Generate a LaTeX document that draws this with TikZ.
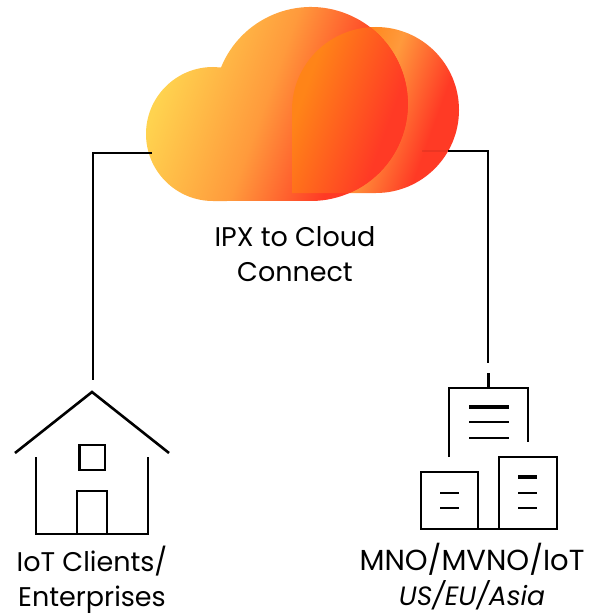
\documentclass[tikz,border=0pt]{standalone}
\usepackage{fontspec}
\setmainfont{Poppins}
\usetikzlibrary{arrows}
\definecolor{cloudA}{HTML}{FFD34F}
\definecolor{cloudB}{HTML}{FF9A3C}
\definecolor{cloudC}{HTML}{FF3A25}
\definecolor{cloudD}{HTML}{FF8418}
\pgfdeclarehorizontalshading{cloudfront}{100bp}{color(0bp)=(cloudA); color(27bp)=(cloudA); color(47bp)=(cloudB); color(64bp)=(cloudC); color(100bp)=(cloudC)}
\pgfdeclarehorizontalshading{cloudback}{100bp}{color(0bp)=(cloudD); color(38bp)=(cloudD); color(50bp)=(cloudB); color(68bp)=(cloudC); color(100bp)=(cloudC)}
\pgfdeclarehorizontalshading{cloudover}{100bp}{color(0bp)=(cloudD); color(28bp)=(cloudD); color(55bp)=(cloudC); color(100bp)=(cloudC)}

\begin{document}
\begin{tikzpicture}[x=1pt,y=-1pt]
	\tikzstyle{pen}=[line width=2.6pt, black, line cap=butt, line join=miter]
	\tikzstyle{thickpen}=[line width=3.6pt, black]
	\tikzstyle{connect}=[line width=2.6pt, black]
	\tikzstyle{caption}=[inner sep=0mm, align=center, font=\fontsize{27}{35}\selectfont]
	\useasboundingbox (0,0) rectangle (590,615);
	\def\backcloud{(292,193) -- (292,110) arc (180:270:84 and 83) arc (270:450:83) -- cycle}
	\def\frontcloud{(213,201) arc (90:270:67) -- (221,67.5) arc (202.1:450:97) -- cycle}
	  % cloud
	  \shade[shading=cloudback,shading angle=-20] \backcloud;
	  \shade[shading=cloudfront,shading angle=-20] \frontcloud;
	  \begin{scope}
	    \clip \frontcloud;
	    \shade[shading=cloudover,shading angle=-20] \backcloud;
	  \end{scope}
	  % connector ends
	  \coordinate (cloud_l) at (152,153);
	  \coordinate (cloud_r) at (448,151);
	  \coordinate (cloud_in) at (422,151);
	  \coordinate (corner_l) at (93,153);
	  \coordinate (corner_r) at (488,151);
	  \coordinate (house_top) at (93,380);
	  \coordinate (tower_gap) at (488,363);
	  \coordinate (stub_a) at (488.7,373);
	  \coordinate (stub_b) at (488.7,388);
	  \draw[connect] (cloud_l) -- (corner_l) -- (house_top);
	  \draw[connect] (cloud_r) -- (corner_r) -- (tower_gap);
	  \draw[connect,opacity=.08] (cloud_in) -- (cloud_r);
	  \draw[connect] (stub_a) -- (stub_b);
	  % house
	  \draw[pen] (15,453) -- (92,392) -- (169,453);
	  \draw[pen] (36,457) -- (36,534) -- (148,534) -- (148,457);
	  \draw[pen] (79.5,445) rectangle (105,470);
	  \draw[pen] (77,534) -- (77,491) -- (107,491) -- (107,534);
	  % buildings
	  \draw[pen] (449,457) -- (449,388) -- (528,388) -- (528,442);
	  \draw[thickpen] (469,407) -- (509,407);
	  \draw[pen] (469,422) -- (509,422);
	  \draw[pen] (469,438) -- (509,438);
	  \draw[pen] (421,529) rectangle (478,472);
	  \draw[pen] (499,529) rectangle (557,457);
	  \draw[pen] (478,529) -- (499,529);
	  \draw[pen] (440,493) -- (459,493);
	  \draw[pen] (440,508) -- (459,508);
	  \draw[thickpen] (518,477) -- (537,477);
	  \draw[pen] (518,493) -- (537,493);
	  \draw[pen] (518,508) -- (537,508);
	  % labels
	  \node[caption] (cloud_label) at (295,254) {IPX to Cloud\\Connect};
	  \node[caption] (house_label) at (92,580) {IoT Clients/\\Enterprises};
	  \node[caption] (tower_label) at (472,577) {\fontsize{29}{35}\selectfont MNO/MVNO/IoT\\\fontsize{26.5}{35}\selectfont\itshape US/EU/Asia};
\end{tikzpicture}
\end{document}
